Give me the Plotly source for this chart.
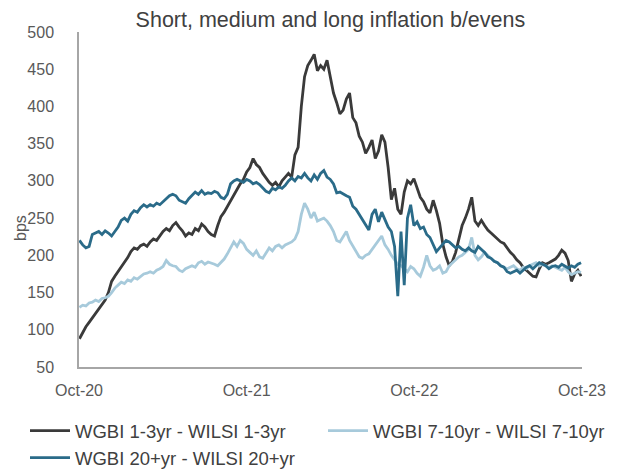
import pandas as pd
import plotly.graph_objects as go

dates = pd.date_range(start="2020-10-02", periods=157, freq="7D")

short_1_3 = [
    88, 97, 104, 110, 116, 122, 128, 135, 140, 150,
    165, 172, 178, 184, 190, 197, 205, 210, 208, 213,
    215, 212, 218, 222, 220, 226, 232, 236, 233, 240,
    244, 238, 233, 226, 230, 228, 236, 233, 242, 238,
    232, 228, 226, 240, 252, 258, 266, 272, 282, 290,
    296, 302, 312, 318, 330, 322, 318, 310, 304, 298,
    294, 298, 292, 300, 305, 310, 305, 335, 345, 400,
    440, 455, 462, 470, 448, 455, 450, 462, 440, 418,
    405, 390, 395, 410, 418, 385, 378, 360, 352, 337,
    345, 355, 330, 340, 362, 352, 318, 275, 290, 262,
    255, 285, 300, 296, 303, 290, 278, 272, 262, 257,
    274, 260, 243, 215, 198, 186, 192, 204, 222, 240,
    250, 262, 278, 246, 240, 247, 240, 234, 230, 226,
    222, 218, 216, 210, 204, 200, 194, 190, 184, 180,
    176, 172, 171, 182, 190, 188, 190, 192, 195, 200,
    207, 203, 193, 165, 175, 180, 172,
]

medium_7_10 = [
    130, 133, 132, 136, 137, 140, 138, 142, 143, 145,
    150, 156, 160, 164, 162, 167, 165, 170, 168, 172,
    175, 176, 178, 176, 180, 182, 185, 193, 188, 186,
    185, 180, 178, 182, 184, 186, 184, 190, 192, 188,
    191, 190, 188, 186, 190, 195, 202, 210, 218, 212,
    220, 216, 208, 204, 200, 206, 198, 196, 204, 210,
    206, 212, 214, 210, 214, 216, 218, 222, 232, 255,
    270, 262, 250, 258, 246, 248, 250, 246, 240, 232,
    220, 218, 226, 232, 220, 212, 204, 198, 196, 200,
    202, 208, 214, 220, 226, 214, 208, 200, 194, 188,
    186, 182, 178, 185, 182, 176, 172, 184, 200, 186,
    180, 182, 186, 176, 178, 186, 190, 194, 198, 200,
    204, 208, 224, 200, 194, 198, 204, 200, 196, 192,
    190, 186, 184, 182, 184, 186, 182, 180, 184, 182,
    186, 188, 190, 186, 188, 186, 184, 186, 184, 182,
    180, 184, 178, 174, 176, 178, 177,
]

long_20 = [
    220, 214, 210, 212, 228, 230, 232, 228, 233, 230,
    226, 232, 238, 247, 250, 246, 255, 260, 258, 264,
    268, 265, 268, 266, 270, 268, 272, 276, 280, 282,
    280, 274, 272, 270, 276, 280, 285, 282, 287, 282,
    284, 283, 286, 284, 278, 276, 282, 296, 300, 302,
    300, 298, 302, 300, 296, 298, 295, 290, 286, 284,
    290, 288, 292, 290, 294, 300, 304, 300, 306, 304,
    310, 304, 300, 308, 302, 310, 314, 305, 302, 296,
    284, 285, 282, 280, 278, 266, 262, 255, 248, 240,
    234, 255, 262, 245, 258, 248, 238, 232, 212, 145,
    232, 160, 250, 268, 240, 245, 236, 238, 228, 224,
    215, 205, 210, 215, 220, 218, 214, 210, 212, 208,
    206, 210, 206, 204, 212, 208, 204, 198, 196, 192,
    190, 186, 184, 178, 176, 178, 180, 176, 180, 184,
    186, 182, 186, 190, 188, 186, 182, 185, 186, 184,
    188, 185, 183, 186, 184, 188, 190,
]

series_names = [
    "WGBI 1-3yr - WILSI 1-3yr",
    "WGBI 7-10yr - WILSI 7-10yr",
    "WGBI 20+yr - WILSI 20+yr",
]
series_values = [short_1_3, medium_7_10, long_20]
series_colors = ["#3a3a3a", "#a7cadb", "#2a6b89"]
series_legends = ["legend", "legend2", "legend"]

tick_vals = ["2020-10-01", "2021-10-01", "2022-10-01", "2023-10-01"]
tick_text = ["Oct-20", "Oct-21", "Oct-22", "Oct-23"]

FONT = "Arial, 'Liberation Sans', sans-serif"
W, H = 627, 471

fig = go.Figure()
for name, vals, col, lg in zip(series_names, series_values, series_colors, series_legends):
    fig.add_trace(go.Scatter(
        x=dates, y=vals, name=name, mode="lines",
        line=dict(color=col, width=2.8), legend=lg,
        hoverinfo="skip",
    ))

legend_common = dict(
    orientation="v",
    xref="container", yref="container",
    xanchor="left", yanchor="top",
    font=dict(size=18.5, color="#404040", family=FONT),
    tracegroupgap=0, itemwidth=40,
    bgcolor="rgba(0,0,0,0)",
)

fig.update_layout(
    width=W, height=H,
    margin=dict(l=79, r=45, t=32, b=104, autoexpand=False),
    paper_bgcolor="white", plot_bgcolor="white",
    font=dict(family=FONT, color="#595959", size=16),
    title=dict(
        text="Short, medium and long inflation b/evens",
        x=0.527, xanchor="center", y=1 - 19 / H, yanchor="middle",
        font=dict(size=21.5, color="#404040", family=FONT),
    ),
    showlegend=True,
    legend=dict(x=25 / W, y=1 - 412 / H, **legend_common),
    legend2=dict(x=323 / W, y=1 - 412 / H, **legend_common),
    annotations=[dict(
        text="bps", textangle=-90, showarrow=False,
        xref="paper", yref="paper",
        x=(20 - 79) / 503, y=(367 - 228) / 335,
        xanchor="center", yanchor="middle",
        font=dict(size=16, color="#595959", family=FONT),
    )],
)

fig.update_xaxes(
    type="date",
    range=["2020-10-01", "2023-10-01"],
    tickvals=tick_vals, ticktext=tick_text,
    showgrid=False, zeroline=False,
    showline=True, linecolor="#a6a6a6", linewidth=1.5,
    ticks="", ticklabelstandoff=8,
    tickfont=dict(size=16, color="#595959"),
)
fig.update_yaxes(
    range=[50, 500], dtick=50, tick0=50,
    showgrid=False, zeroline=False,
    showline=True, linecolor="#a6a6a6", linewidth=1.5,
    ticks="", ticklabelstandoff=20,
    tickfont=dict(size=16, color="#595959"),
)

fig.write_html(
    "out.html",
    config={"displayModeBar": False},
    post_script="document.body.style.margin='0px'; document.body.style.overflow='hidden';",
)
